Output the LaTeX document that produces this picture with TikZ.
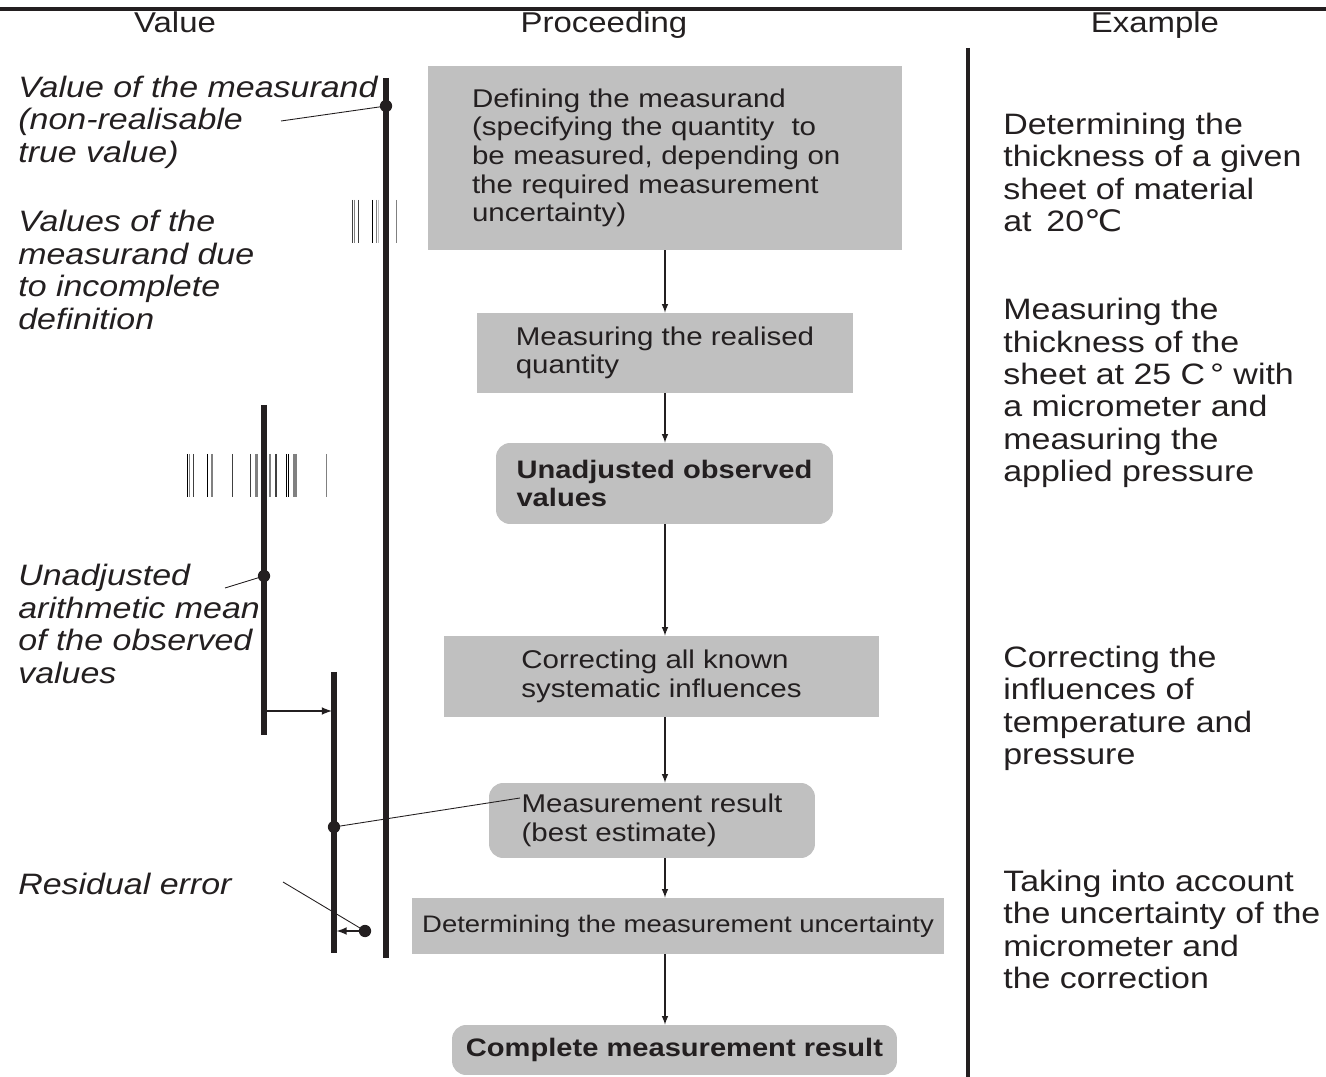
\documentclass[tikz,border=0pt]{standalone}
\usepackage{fontspec}
\setmainfont[FakeStretch=1.15]{Liberation Sans}
\newfontfamily\degfont[FakeStretch=1.15]{DejaVu Sans}
\definecolor{boxgray}{RGB}{192,192,192}
\definecolor{ink}{RGB}{35,31,32}

\begin{document}
\begin{tikzpicture}[x=0.02cm, y=-0.02cm, every node/.style={text=ink}, head/.style={font=\fontsize{16.3}{18}\selectfont, anchor=base, inner sep=0}, side/.style={font=\fontsize{16.8}{18.4}\selectfont, align=left, anchor=base west, inner sep=0}, note/.style={side, font=\fontsize{16.8}{18.6}\selectfont\itshape}, box/.style={fill=boxgray, align=left, font=\fontsize{14.6}{16.3}\selectfont, inner sep=0}, rbox/.style={box, rounded corners=8pt, font=\fontsize{14.4}{15.9}\selectfont\bfseries}, flow/.style={-latex, line width=0.7pt, draw=ink}, push/.style={-latex, line width=1pt, draw=ink}, bar/.style={line width=3.2pt, draw=ink}, bullet/.style={circle, fill=ink, inner sep=0, minimum size=7pt}, lead/.style={line width=0.5pt, draw=ink}, tick/.style={line width=0.8pt}]
            \useasboundingbox (0,0) rectangle (1326,1077);
            % frame
            \draw[line width=1.8pt, ink] (0,9) -- (1326,9);
            \draw[line width=2.3pt, ink] (968,48) -- (968,1077);
            % headings
            \node[head] (hval) at (175,33) {Value};
            \node[head] (hproc) at (604,33) {Proceeding};
            \node[head] (hex) at (1155,33) {Example};
            % value bars
            \draw[bar] (386,78) -- (386,958);
            \draw[bar] (264,405) -- (264,735);
            \draw[bar] (334,672) -- (334,953);
            \foreach \x/\c in {352.5/darkgray, 354.5/gray, 358.7/darkgray, 372.5/black, 376.5/gray, 378.5/lightgray, 396.5/gray}
                \draw[tick, \c] (\x,200) -- (\x,243);
            \foreach \x/\c in {187.5/black, 189.5/gray, 193.5/darkgray, 207.5/black, 212/gray, 232.5/darkgray, 250.5/darkgray, 256/gray, 257.5/gray, 270/gray, 276/darkgray, 286.5/black, 288.5/black, 294/gray, 296/gray, 326.5/gray}
                \draw[tick, \c] (\x,454) -- (\x,497);
            \node[bullet] (true) at (386,106) {};
            \node[bullet] (mean) at (264,576) {};
            \node[bullet] (best) at (334,827) {};
            \node[bullet] (resid) at (365,931) {};
            \coordinate (truefoot) at (281,121);
            \coordinate (meanfoot) at (225,588);
            \coordinate (bestfoot) at (520,798);
            \coordinate (residfoot) at (283,882);
            \coordinate (shiftfrom) at (264,711);
            \coordinate (shiftto) at (332,711);
            \coordinate (residtip) at (336.5,931);
            % value notes (placed at the baseline of their last line)
            \node[note] (truetxt) at (18,162.6) {Value of the measurand\\(non-realisable\\true value)};
            \node[note] (deftxt) at (18,329.4) {Values of the\\measurand due\\to incomplete\\definition};
            \node[note] (meantxt) at (18,683.4) {Unadjusted\\arithmetic mean\\of the observed\\values};
            \node[note] (residtxt) at (18,894) {Residual error};
            % proceeding
            \node[box, text width=7.72cm, minimum width=9.48cm, minimum height=3.68cm] (define) at (665,158) {Defining the measurand\\(specifying the quantity\ \ to\\be measured, depending on\\the required measurement\\uncertainty)};
            \node[box, minimum width=7.52cm, minimum height=1.6cm] (realise) at (665,353) {Measuring the realised\\quantity};
            \node[rbox, minimum width=6.74cm, minimum height=1.62cm] (raw) at (664.5,483.5) {Unadjusted observed\\values};
            \node[box, minimum width=8.7cm, minimum height=1.62cm] (correct) at (661.5,676.5) {Correcting all known\\systematic influences};
            \node[box, rounded corners=8pt, minimum width=6.52cm, minimum height=1.5cm] (result) at (652,820.5) {Measurement result\\(best estimate)};
            \node[box, font=\fontsize{13.6}{15}\selectfont, minimum width=10.64cm, minimum height=1.12cm] (uncert) at (678,926) {Determining the measurement uncertainty};
            \node[rbox, minimum width=8.9cm, minimum height=1cm] (complete) at (674.5,1050) {Complete measurement result};
            % examples (placed at the baseline of their last line)
            \node[side] (ex1) at (1003,231.5) {Determining the\\thickness of a given\\sheet of material\\at\enspace 20{\degfont ℃}};
            \node[side] (ex2) at (1003,481.5) {Measuring the\\thickness of the\\sheet at 25 C\kern3pt° with\\a micrometer and\\measuring the\\applied pressure};
            \node[side] (ex3) at (1003,764.5) {Correcting the\\influences of\\temperature and\\pressure};
            \node[side] (ex4) at (1003,988.5) {Taking into account\\the uncertainty of the\\micrometer and\\the correction};
            % edges
            \coordinate (axis) at (665,0);
            \draw[flow] (axis |- define.south) -- (axis |- realise.north);
            \draw[flow] (axis |- realise.south) -- (axis |- raw.north);
            \draw[flow] (axis |- raw.south) -- (axis |- correct.north);
            \draw[flow] (axis |- correct.south) -- (axis |- result.north);
            \draw[flow] (axis |- result.south) -- (axis |- uncert.north);
            \draw[flow] (axis |- uncert.south) -- (axis |- complete.north);
            \draw[push] (shiftfrom) -- (shiftto);
            \draw[push] (resid) -- (residtip);
            \draw[lead] (truefoot) -- (true.center);
            \draw[lead] (meanfoot) -- (mean.center);
            \draw[lead] (best.center) -- (bestfoot);
            \draw[lead] (residfoot) -- (resid.center);
        \end{tikzpicture}
\end{document}
